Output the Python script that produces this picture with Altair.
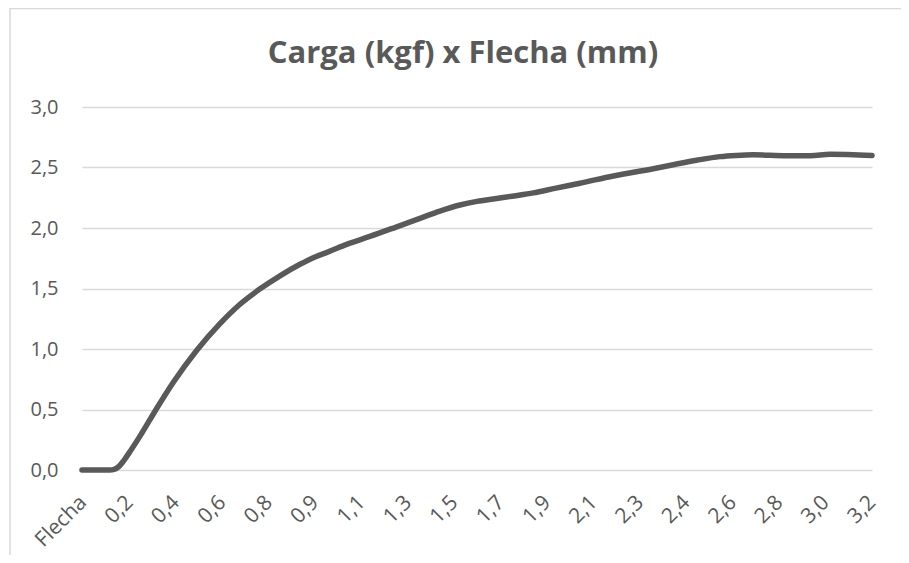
import altair as alt
import pandas as pd
import json

# Flecha (mm) and Carga (kgf)
flecha = [0.0, 0.113, 0.13, 0.15, 0.17, 0.20, 0.235, 0.30, 0.37, 0.465, 0.559, 0.64, 0.72,
          0.802, 0.883, 0.937, 1.0, 1.072, 1.166, 1.275, 1.369, 1.45, 1.531, 1.60, 1.666,
          1.75, 1.828, 1.92, 2.017, 2.152, 2.314, 2.40, 2.49, 2.584, 2.65, 2.719, 2.854,
          2.95, 3.03, 3.2]
carga = [0.0, 0.0, 0.005, 0.03, 0.08, 0.17, 0.28, 0.5, 0.725, 0.99, 1.21, 1.37, 1.495,
         1.605, 1.70, 1.755, 1.805, 1.865, 1.93, 2.01, 2.08, 2.14, 2.19, 2.22, 2.24,
         2.265, 2.29, 2.33, 2.37, 2.43, 2.49, 2.525, 2.56, 2.59, 2.60, 2.605, 2.597,
         2.597, 2.61, 2.60]

# category-axis tick positions and their labels
tick_values = [0.0, 0.188, 0.376, 0.564, 0.752, 0.94, 1.128, 1.316, 1.504, 1.692,
               1.88, 2.068, 2.256, 2.444, 2.632, 2.82, 3.008, 3.196]
tick_labels = ["Flecha", "0,2", "0,4", "0,6", "0,8", "0,9", "1,1", "1,3", "1,5", "1,7",
               "1,9", "2,1", "2,3", "2,4", "2,6", "2,8", "3,0", "3,2"]
y_ticks = [0.0, 0.5, 1.0, 1.5, 2.0, 2.5, 3.0]
title_text = "Carga (kgf) x Flecha (mm)"

df = pd.DataFrame({"flecha": flecha, "carga": carga})

label_expr = f"{json.dumps(tick_labels)}[indexof({json.dumps(tick_values)}, datum.value)]"

FONT = "Open Sans"
GRAY = "#595959"

line = alt.Chart(df).mark_line(
    color=GRAY, strokeWidth=5.5, strokeCap="round", strokeJoin="round", interpolate="monotone"
).encode(
    x=alt.X("flecha:Q",
            scale=alt.Scale(domain=[0, 3.2], nice=False, zero=True),
            axis=alt.Axis(values=tick_values, labelExpr=label_expr, labelAngle=-45,
                          labelAlign="right", labelBaseline="middle", labelPadding=29,
                          labelOffset=1,
                          labelFont=FONT, labelFontSize=21, labelColor=GRAY,
                          ticks=False, domain=False, grid=False, title=None,
                          labelOverlap=False, labelBound=False, labelFlush=False)),
    y=alt.Y("carga:Q",
            scale=alt.Scale(domain=[0, 3], nice=False),
            axis=alt.Axis(values=y_ticks,
                          labelExpr="replace(format(datum.value, '.1f'), '.', ',')",
                          labelFont=FONT, labelFontSize=20, labelColor=GRAY,
                          labelAlign="right", labelBaseline="middle",
                          labelPadding=24, ticks=False, domain=False,
                          grid=True, gridColor="#d9d9d9", gridWidth=1.3, title=None)),
)

border = alt.Chart(alt.Data(values=[{"a": 1}])).mark_rect(
    fill=None, stroke="#d9d9d9", strokeWidth=1.5
).encode(
    x=alt.value(-72), x2=alt.value(1200), y=alt.value(-98.5), y2=alt.value(1200)
)

title = alt.Chart(alt.Data(values=[{"t": title_text}])).mark_text(
    font=FONT, fontSize=31, fontWeight="bold", color=GRAY,
    align="center", baseline="alphabetic"
).encode(
    text="t:N", x=alt.value(381), y=alt.value(-44)
)

chart = alt.layer(border, line, title).properties(
    width=790, height=363,
    autosize=alt.AutoSizeParams(type="none"),
    padding={"left": 74, "top": 99, "right": 29, "bottom": 85},
).configure_view(strokeWidth=0)

chart.save("out.html", embed_options={"renderer": "svg", "actions": False})
